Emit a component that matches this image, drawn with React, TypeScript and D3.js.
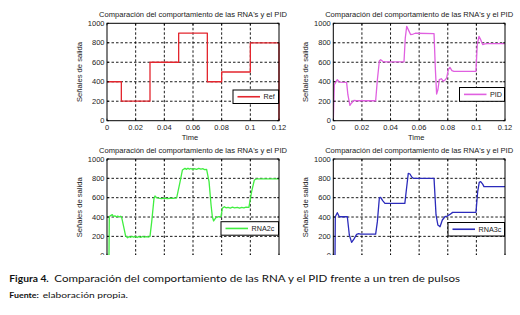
import React from "react";
import * as d3 from "d3";

const xTicks = [0, 0.02, 0.04, 0.06, 0.08, 0.1, 0.12];
const xTickLabels = ["0", "0.02", "0.04", "0.06", "0.08", "0.1", "0.12"];
const yTicks = [0, 200, 400, 600, 800, 1000];
const yTickLabels = ["0", "200", "400", "600", "800", "1000"];

const refTimes = [0, 0.01, 0.03, 0.05, 0.07, 0.08, 0.1, 0.12, 0.12];
const refValues = [400, 200, 600, 900, 400, 500, 800, 800, 0];

const pid: [number, number][] = [
  [0, 0], [0.0007, 370], [0.0028, 421], [0.0042, 397], [0.0093, 394], [0.0102, 267],
  [0.0116, 158], [0.0128, 182], [0.0144, 209], [0.0163, 205], [0.0296, 205], [0.0308, 420],
  [0.0322, 616], [0.0331, 627], [0.0345, 610], [0.0361, 603], [0.0494, 603], [0.0503, 849],
  [0.0513, 969], [0.0524, 935], [0.054, 884], [0.0559, 890], [0.0573, 898], [0.0704, 894],
  [0.0713, 541], [0.0722, 274], [0.0731, 318], [0.0741, 421], [0.0755, 431], [0.0769, 404],
  [0.0783, 421], [0.0792, 438], [0.0804, 524], [0.0815, 548], [0.0829, 514], [0.0843, 507],
  [0.0997, 507], [0.1006, 781], [0.1018, 866], [0.103, 832], [0.1044, 781], [0.106, 788],
  [0.1075, 791], [0.12, 791],
];

const rna2c: [number, number][] = [
  [0, 0], [0.0014, 5], [0.0016, 403], [0.0025, 415], [0.0037, 425], [0.0045, 405], [0.0055, 412],
  [0.0065, 402], [0.0075, 410], [0.0085, 400], [0.0095, 408], [0.0102, 400], [0.0121, 266],
  [0.013, 203], [0.0144, 186], [0.0155, 198], [0.0165, 190], [0.0175, 200], [0.0185, 192],
  [0.0195, 198], [0.021, 188], [0.022, 197], [0.0235, 190], [0.025, 199], [0.026, 191],
  [0.0275, 198], [0.029, 193], [0.03, 200], [0.0312, 352], [0.0328, 593], [0.0335, 617],
  [0.0346, 600], [0.036, 595], [0.038, 590], [0.04, 596], [0.042, 590], [0.044, 594],
  [0.046, 592], [0.0486, 598], [0.051, 766], [0.0526, 886], [0.0544, 903], [0.0555, 893],
  [0.0565, 905], [0.0575, 895], [0.0585, 902], [0.06, 890], [0.061, 900], [0.0625, 893],
  [0.064, 903], [0.0655, 895], [0.067, 900], [0.068, 890], [0.0695, 893], [0.0712, 766],
  [0.0726, 524], [0.0735, 403], [0.0744, 359], [0.076, 393], [0.0777, 403], [0.0795, 405],
  [0.0805, 490], [0.0819, 507], [0.083, 495], [0.0845, 500], [0.086, 493], [0.0875, 502],
  [0.089, 495], [0.091, 500], [0.0925, 492], [0.094, 500], [0.0955, 495], [0.097, 502],
  [0.099, 500], [0.1009, 662], [0.1028, 783], [0.1044, 795], [0.12, 795],
];

const rna3c: [number, number][] = [
  [0, 0], [0.0012, 5], [0.0014, 403], [0.0028, 445], [0.0042, 403], [0.0098, 403], [0.0112, 214],
  [0.0128, 138], [0.0144, 172], [0.0163, 221], [0.0177, 228], [0.0191, 224], [0.0296, 224],
  [0.0308, 352], [0.0322, 600], [0.0331, 603], [0.0345, 569], [0.0361, 541], [0.05, 541],
  [0.0512, 697], [0.0524, 852], [0.0536, 845], [0.0548, 814], [0.056, 800], [0.0704, 800],
  [0.0718, 421], [0.0731, 317], [0.0746, 300], [0.0762, 369], [0.078, 403], [0.0797, 410],
  [0.0815, 427], [0.0834, 448], [0.0997, 448], [0.1009, 662], [0.102, 759], [0.103, 766],
  [0.1044, 740], [0.1053, 714], [0.12, 714],
];

const refSeries: [number, number][] = refTimes.map((t, i) => [t, refValues[i]]);

const titleText = "Comparación del comportamiento de las RNA's y el PID";
const yLabel = "Señales de salida";
const xLabel = "Time";
const captionBold = "Figura 4.";
const captionText = "Comparación del comportamiento de las RNA y el PID frente a un tren de pulsos";
const sourceBold = "Fuente:";
const sourceText = "elaboración propia.";

const FONT = "'Liberation Sans', Arial, sans-serif";
const CAPFONT = "Lato, 'Open Sans', sans-serif";

type Panel = {
  id: string;
  x0: number; x1: number; y0: number; y1: number;
  data: [number, number][];
  color: string;
  name: string;
  step?: boolean;
  leg: { x0: number; x1: number; y0: number; y1: number };
  titleY: number;
  clipBottom?: number;
};

const panels: Panel[] = [
  { id: "tl", x0: 107, x1: 279, y0: 23.3, y1: 120.7, data: refSeries, color: "#e3262e", name: "Ref", step: true,
    leg: { x0: 233, x1: 278.5, y0: 90, y1: 103.5 }, titleY: 17 },
  { id: "tr", x0: 333.3, x1: 505, y0: 23.3, y1: 120.7, data: pid, color: "#e060e0", name: "PID",
    leg: { x0: 459.5, x1: 504.5, y0: 87.5, y1: 101.3 }, titleY: 17 },
  { id: "bl", x0: 107, x1: 279, y0: 159, y1: 255.7, data: rna2c, color: "#40ee40", name: "RNA2c",
    leg: { x0: 221, x1: 278.5, y0: 221.7, y1: 235.2 }, titleY: 152.5, clipBottom: 255 },
  { id: "br", x0: 333.3, x1: 505, y0: 159, y1: 255.7, data: rna3c, color: "#2b2bbb", name: "RNA3c",
    leg: { x0: 448, x1: 504.5, y0: 222.5, y1: 236 }, titleY: 152.5, clipBottom: 255 },
];

function PanelView({ p }: { p: Panel }) {
  const x = d3.scaleLinear().domain([0, 0.12]).range([p.x0, p.x1]);
  const y = d3.scaleLinear().domain([0, 1000]).range([p.y1, p.y0]);
  const line = d3
    .line<[number, number]>()
    .x((d) => x(d[0]))
    .y((d) => y(d[1]))
    .curve(p.step ? d3.curveStepAfter : d3.curveLinear);
  const cx = (p.x0 + p.x1) / 2;
  const cy = (p.y0 + p.y1) / 2;
  const clipId = "clip-" + p.id;
  const outerClip = "oclip-" + p.id;
  const legMidY = (p.leg.y0 + p.leg.y1) / 2;
  const showX = !p.clipBottom;
  return (
    <g clipPath={p.clipBottom ? `url(#${outerClip})` : undefined}>
      <defs>
        <clipPath id={clipId}>
          <rect x={p.x0} y={p.y0 - 1} width={p.x1 - p.x0 + 1} height={p.y1 - p.y0 + 2} />
        </clipPath>
        {p.clipBottom ? (
          <clipPath id={outerClip}>
            <rect x={0} y={0} width={520} height={p.clipBottom} />
          </clipPath>
        ) : null}
      </defs>
      <rect x={p.x0} y={p.y0} width={p.x1 - p.x0} height={p.y1 - p.y0} fill="#fff" />
      {xTicks.slice(1, -1).map((t) => (
        <line key={"gx" + t} x1={x(t)} x2={x(t)} y1={p.y0} y2={p.y1} stroke="#000" strokeWidth={0.9} strokeDasharray="2.5,2" />
      ))}
      {yTicks.slice(1, -1).map((t) => (
        <line key={"gy" + t} x1={p.x0} x2={p.x1} y1={y(t)} y2={y(t)} stroke="#000" strokeWidth={0.9} strokeDasharray="2.5,2" />
      ))}
      <path d={line(p.data) || ""} fill="none" stroke={p.color} strokeWidth={1.3} clipPath={`url(#${clipId})`} strokeLinejoin="round" />
      <rect x={p.x0} y={p.y0} width={p.x1 - p.x0} height={p.y1 - p.y0} fill="none" stroke="#000" strokeWidth={1} />
      {xTicks.map((t) => (
        <g key={"tx" + t}>
          <line x1={x(t)} x2={x(t)} y1={p.y1} y2={p.y1 - 2} stroke="#000" strokeWidth={0.8} />
          <line x1={x(t)} x2={x(t)} y1={p.y0} y2={p.y0 + 2} stroke="#000" strokeWidth={0.8} />
        </g>
      ))}
      {yTicks.map((t) => (
        <g key={"ty" + t}>
          <line x1={p.x0} x2={p.x0 + 2} y1={y(t)} y2={y(t)} stroke="#000" strokeWidth={0.8} />
          <line x1={p.x1} x2={p.x1 - 2} y1={y(t)} y2={y(t)} stroke="#000" strokeWidth={0.8} />
        </g>
      ))}
      {yTicks.map((t, i) => (
        <text key={"yl" + t} x={p.x0 - 2.5} y={y(t) + 2.6} fontSize={7.5} textAnchor="end" fontFamily={FONT} fill="#222">
          {yTickLabels[i]}
        </text>
      ))}
      {showX &&
        xTicks.map((t, i) => (
          <text key={"xl" + t} x={x(t)} y={p.y1 + 9.5} fontSize={7.5} textAnchor="middle" fontFamily={FONT} fill="#222">
            {xTickLabels[i]}
          </text>
        ))}
      {showX && (
        <text x={cx - 3} y={p.y1 + 18.8} fontSize={7.5} textAnchor="middle" fontFamily={FONT} fill="#222">
          {xLabel}
        </text>
      )}
      <text
        transform={`translate(${p.x0 - 25.5},${cy}) rotate(-90)`}
        fontSize={7.5}
        textAnchor="middle"
        fontFamily={FONT}
        fill="#222"
        textLength={60}
        lengthAdjust="spacingAndGlyphs"
      >
        {yLabel}
      </text>
      <text x={cx} y={p.titleY} fontSize={7.5} textAnchor="middle" fontFamily={FONT} fill="#222" textLength={188} lengthAdjust="spacingAndGlyphs">
        {titleText}
      </text>
      <rect x={p.leg.x0} y={p.leg.y0} width={p.leg.x1 - p.leg.x0} height={p.leg.y1 - p.leg.y0} fill="#fff" stroke="#000" strokeWidth={1} />
      <line x1={p.leg.x0 + 4.5} x2={p.leg.x0 + 27} y1={legMidY} y2={legMidY} stroke={p.color} strokeWidth={1.6} />
      <text x={p.leg.x0 + 30.5} y={legMidY + 2.6} fontSize={7.2} fontFamily={FONT} fill="#222">
        {p.name}
      </text>
    </g>
  );
}

export default function App() {
  return (
    <svg width={520} height={315} style={{ position: "absolute", left: 0, top: 0, background: "#fff" }}>
      <rect x={0} y={0} width={520} height={315} fill="#fff" />
      {panels.map((p) => (
        <PanelView key={p.id} p={p} />
      ))}
      <text x={9.3} y={281.5} fontSize={10} fontWeight="bold" fontFamily={CAPFONT} fill="#111" textLength={39.5} lengthAdjust="spacingAndGlyphs">
        {captionBold}
      </text>
      <text x={54.3} y={281.5} fontSize={10} fontFamily={CAPFONT} fill="#111" textLength={405.7} lengthAdjust="spacingAndGlyphs">
        {captionText}
      </text>
      <text x={9.3} y={297.5} fontSize={8} fontWeight="bold" fontFamily={CAPFONT} fill="#111" textLength={29.5} lengthAdjust="spacingAndGlyphs">
        {sourceBold}
      </text>
      <text x={42.7} y={297.5} fontSize={8} fontFamily={CAPFONT} fill="#111" textLength={85.3} lengthAdjust="spacingAndGlyphs">
        {sourceText}
      </text>
    </svg>
  );
}
